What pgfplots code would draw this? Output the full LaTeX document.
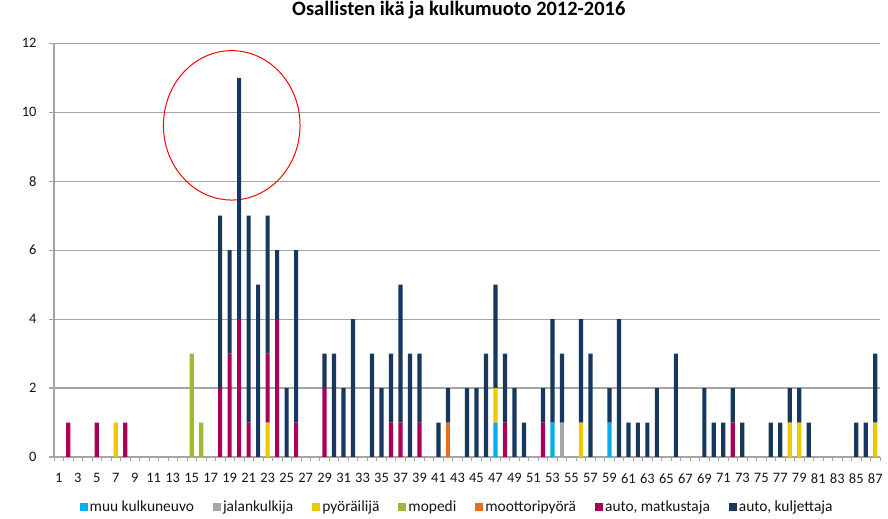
\documentclass[border=0pt]{standalone}
\usepackage{pgfplots}
\pgfplotsset{compat=1.18}
\usepackage{pgfplotstable}
\usepackage{fontspec}
\setmainfont{Carlito}
\definecolor{cMuu}{RGB}{0,176,230}
\definecolor{cJalan}{RGB}{166,166,166}
\definecolor{cPyora}{RGB}{240,200,0}
\definecolor{cMopedi}{RGB}{155,187,50}
\definecolor{cMoott}{RGB}{232,110,30}
\definecolor{cMatk}{RGB}{170,0,85}
\definecolor{cKulj}{RGB}{23,55,94}
\definecolor{gridgray}{RGB}{165,165,165}
\definecolor{txt}{RGB}{20,20,20}

\pgfplotstableread{
age muu jalan pyora mopedi moott matk kulj
2  0 0 0 0 0 1 0
5  0 0 0 0 0 1 0
7  0 0 1 0 0 0 0
8  0 0 0 0 0 1 0
15 0 0 0 3 0 0 0
16 0 0 0 1 0 0 0
18 0 0 0 0 0 2 5
19 0 0 0 0 0 3 3
20 0 0 0 0 0 4 7
21 0 0 0 0 0 1 6
22 0 0 0 0 0 0 5
23 0 0 1 0 0 2 4
24 0 0 0 0 0 4 2
25 0 0 0 0 0 0 2
26 0 0 0 0 0 1 5
29 0 0 0 0 0 2 1
30 0 0 0 0 0 0 3
31 0 0 0 0 0 0 2
32 0 0 0 0 0 0 4
34 0 0 0 0 0 0 3
35 0 0 0 0 0 0 2
36 0 0 0 0 0 1 2
37 0 0 0 0 0 1 4
38 0 0 0 0 0 0 3
39 0 0 0 0 0 1 2
41 0 0 0 0 0 0 1
42 0 0 0 0 1 0 1
44 0 0 0 0 0 0 2
45 0 0 0 0 0 0 2
46 0 0 0 0 0 0 3
47 1 0 1 0 0 0 3
48 0 0 0 0 0 1 2
49 0 0 0 0 0 0 2
50 0 0 0 0 0 0 1
52 0 0 0 0 0 1 1
53 1 0 0 0 0 0 3
54 0 1 0 0 0 0 2
56 0 0 1 0 0 0 3
57 0 0 0 0 0 0 3
59 1 0 0 0 0 0 1
60 0 0 0 0 0 0 4
61 0 0 0 0 0 0 1
62 0 0 0 0 0 0 1
63 0 0 0 0 0 0 1
64 0 0 0 0 0 0 2
66 0 0 0 0 0 0 3
69 0 0 0 0 0 0 2
70 0 0 0 0 0 0 1
71 0 0 0 0 0 0 1
72 0 0 0 0 0 1 1
73 0 0 0 0 0 0 1
76 0 0 0 0 0 0 1
77 0 0 0 0 0 0 1
78 0 0 1 0 0 0 1
79 0 0 1 0 0 0 1
80 0 0 0 0 0 0 1
85 0 0 0 0 0 0 1
86 0 0 0 0 0 0 1
87 0 0 1 0 0 0 2
}\data

\begin{document}
\begin{tikzpicture}
\useasboundingbox (-54bp,-62bp) rectangle (834bp,457bp);
\begin{axis}[
  scale only axis,
  width=826bp, height=413.7bp,
  xmin=0.5, xmax=87.5,
  ymin=0, ymax=12,
  ybar stacked,
  bar width=4.2bp,
  axis x line*=bottom,
  axis y line*=left,
  axis line style={gridgray, line width=1.2pt},
  xtick={1,3,...,87},
  minor xtick={0.5,1.5,...,87.5},
  major x tick style={draw=none},
  minor x tick style={gridgray, line width=0.7pt},
  minor tick length=4bp,
  tick align=outside,
  ytick={0,2,...,12},
  ymajorgrids,
  grid style={gridgray, line width=1.2pt},
  major y tick style={gridgray, line width=1.2pt},
  major tick length=5bp,
  /pgf/number format/assume math mode=true,
  tick label style={font=\fontsize{14.5}{16}\selectfont, text=txt},
  x tick label style={yshift=-8bp},
  y tick label style={xshift=-9bp},
  title={\textbf{Osallisten ikä ja kulkumuoto 2012-2016}},
  title style={font=\fontsize{20.5}{24}\selectfont, at={(0.49,1)}, anchor=center, yshift=27bp},
  legend columns=7,
  legend style={draw=none, fill=none, at={(0.488,-0.121)}, anchor=center,
    font=\fontsize{15.5}{18}\selectfont, text=txt,
    /tikz/every even column/.append style={column sep=17bp}},
  legend image code/.code={\fill[#1] (0bp,-4bp) rectangle (8bp,4bp);},
]
\addplot[fill=cMuu, draw=none] table[x=age, y=muu] {\data};
\addplot[fill=cJalan, draw=none] table[x=age, y=jalan] {\data};
\addplot[fill=cPyora, draw=none] table[x=age, y=pyora] {\data};
\addplot[fill=cMopedi, draw=none] table[x=age, y=mopedi] {\data};
\addplot[fill=cMoott, draw=none] table[x=age, y=moott] {\data};
\addplot[fill=cMatk, draw=none] table[x=age, y=matk] {\data};
\addplot[fill=cKulj, draw=none] table[x=age, y=kulj] {\data};
\legend{muu kulkuneuvo, jalankulkija, pyöräilijä, mopedi, moottoripyörä, {auto, matkustaja}, {auto, kuljettaja}}
\draw[red, line width=1pt] (axis cs:19.22,9.62) ellipse [x radius=68.3bp, y radius=74.7bp];
\end{axis}
\end{tikzpicture}
\end{document}
